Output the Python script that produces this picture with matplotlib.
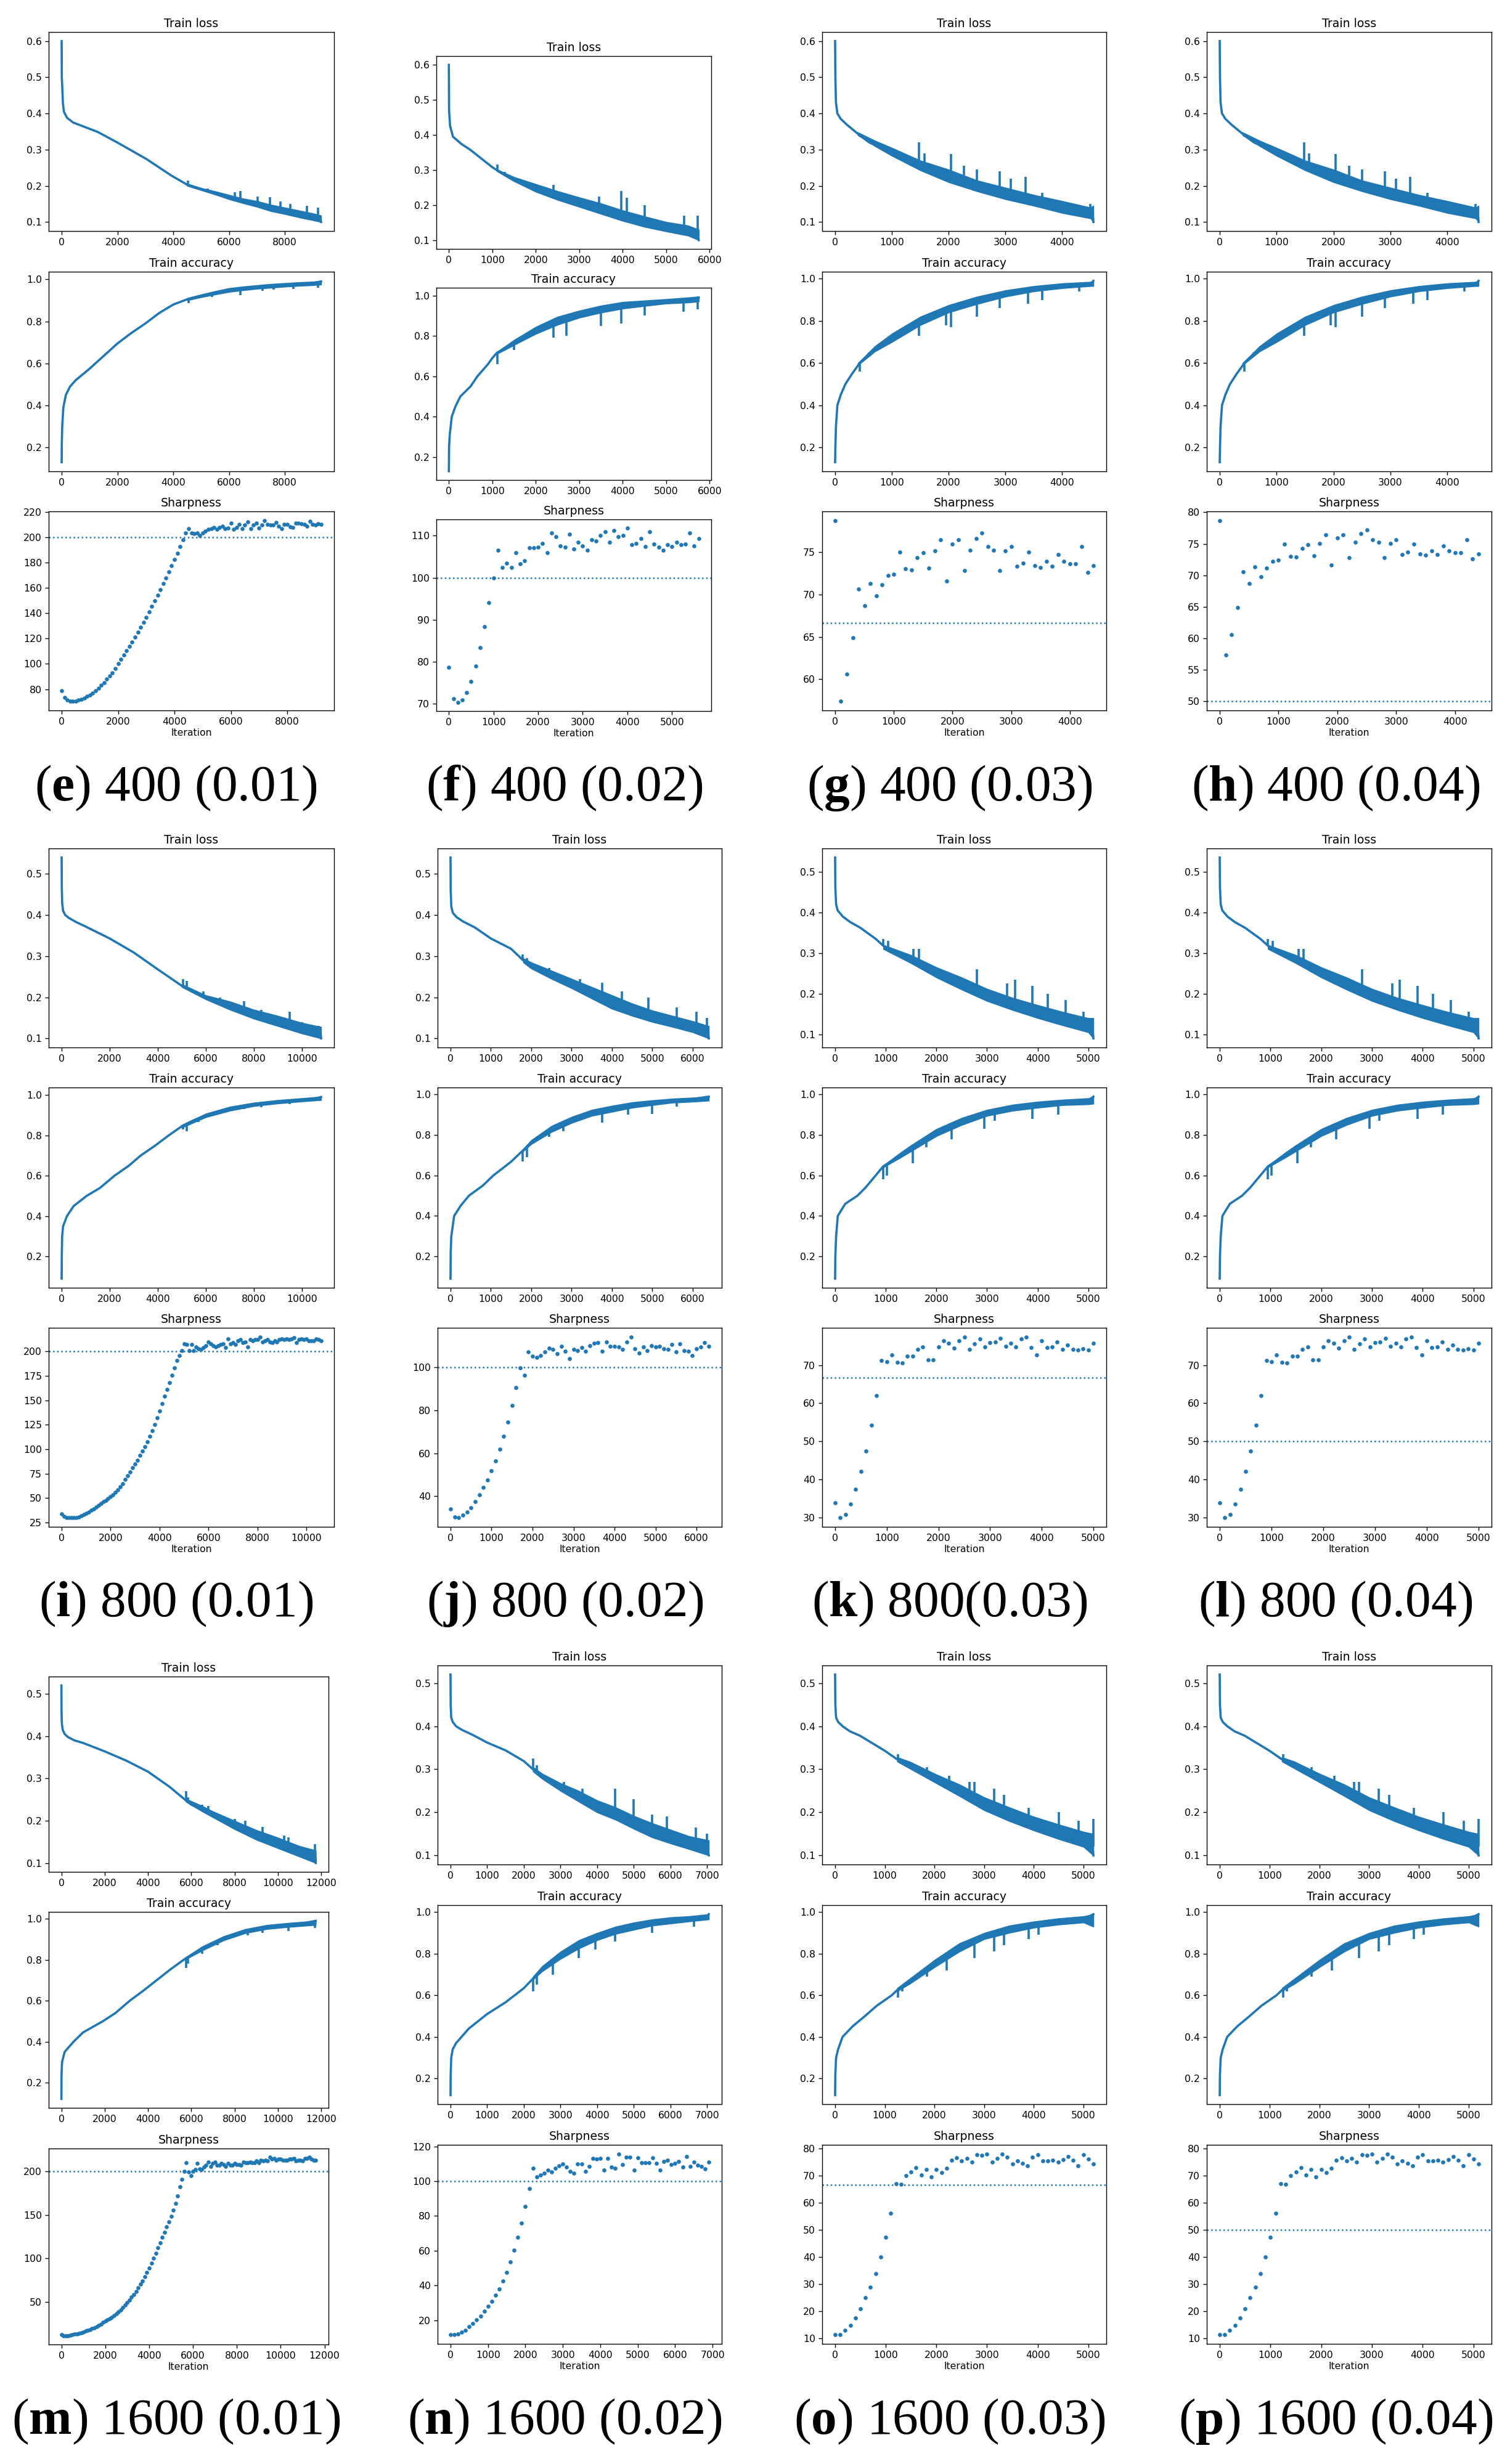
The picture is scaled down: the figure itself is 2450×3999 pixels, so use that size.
import numpy as np
import matplotlib.pyplot as plt
from matplotlib.ticker import MultipleLocator

plt.rcParams['mathtext.fontset'] = 'custom'
plt.rcParams['mathtext.rm'] = 'Liberation Serif'
plt.rcParams['mathtext.bf'] = 'Liberation Serif:bold'

BLUE = '#1f77b4'
W, H = 2450, 3999

# ---------------- (e) 400 (0.01) ----------------
e_loss_it = [0, 5, 20, 44, 80, 190, 410, 850, 1290, 1990, 3040, 3920, 4500, 5000, 5500, 6000, 6500, 7000, 7500, 8000, 8500, 9000, 9280, 9300]
e_loss = [0.60, 0.50, 0.476, 0.43, 0.405, 0.388, 0.375, 0.362, 0.349, 0.32, 0.274, 0.229, 0.203, 0.191, 0.181, 0.169, 0.158, 0.150, 0.139, 0.131, 0.122, 0.114, 0.108, 0.10]
e_loss_bx = [4500, 5000, 5500, 6000, 6500, 7000, 7500, 8000, 8500, 9000, 9300]
e_loss_lo = [0.200, 0.188, 0.176, 0.163, 0.152, 0.142, 0.130, 0.122, 0.113, 0.105, 0.100]
e_loss_hi = [0.206, 0.194, 0.185, 0.175, 0.165, 0.158, 0.148, 0.140, 0.132, 0.124, 0.118]
e_loss_spk = [(4520, 0.203, 0.215), (5230, 0.185, 0.192), (6200, 0.166, 0.182), (6400, 0.16, 0.186), (7020, 0.148, 0.17),
              (7470, 0.14, 0.168), (7850, 0.133, 0.156), (8200, 0.127, 0.15), (8800, 0.117, 0.145), (9200, 0.11, 0.14)]
e_acc_it = [0, 5, 20, 60, 150, 300, 500, 1000, 1500, 2000, 2500, 3000, 3500, 4000, 4500, 5000, 5500, 6000, 6500, 7000, 7500, 8000, 8500, 9000, 9300]
e_acc = [0.13, 0.22, 0.30, 0.39, 0.45, 0.49, 0.52, 0.575, 0.635, 0.695, 0.745, 0.79, 0.84, 0.88, 0.905, 0.922, 0.937, 0.95, 0.958, 0.964, 0.97, 0.974, 0.978, 0.981, 0.99]
e_acc_bx = [4500, 5000, 5500, 6000, 6500, 7000, 7500, 8000, 8500, 9000, 9300]
e_acc_lo = [0.900, 0.915, 0.928, 0.940, 0.948, 0.955, 0.960, 0.965, 0.969, 0.972, 0.975]
e_acc_hi = [0.911, 0.928, 0.944, 0.958, 0.966, 0.972, 0.978, 0.982, 0.986, 0.989, 0.993]
e_acc_spk = [(4560, 0.905, 0.888), (5400, 0.93, 0.915), (6400, 0.955, 0.925), (7200, 0.965, 0.945),
             (7600, 0.968, 0.95), (8300, 0.973, 0.955), (9200, 0.98, 0.96)]
e_sharp = [79, 73.4, 71.5, 70.7, 70.4, 70.7, 71.5, 72, 73, 74.4,
           75.6, 77, 79, 80.8, 83, 85.3, 88, 90.5, 93, 96.5,
           100.2, 103.6, 107, 110.3, 114, 117.4, 121, 124.9, 129, 132.7,
           136.8, 140.9, 145.4, 149.9, 154.3, 158.8, 163.3, 167.8, 172.6, 177.5,
           182.3, 187.5, 192.8, 198, 203.2, 207, 203.6, 202.8, 203.2, 201.3,
           203.2, 205, 206.2, 207, 207.7, 206.2, 208, 208.8, 207, 207.3,
           211.4, 206.2, 208, 210.3, 207, 209.6, 212.2, 206.6, 209.6, 211.4,
           207.3, 209.6, 213.3, 210, 209.6, 209.6, 211.8, 208.8, 207, 210.3,
           210.3, 208.4, 208, 211, 211, 210.7, 210.3, 208.8, 212.9, 210,
           209.6, 210.7, 210]

# ---------------- (f) 400 (0.02) ----------------
f_loss_it = [0, 5, 28, 95, 292, 490, 1000, 1100, 1500, 2000, 2500, 3000, 3500, 4000, 4500, 5000, 5500, 5720, 5750]
f_loss = [0.60, 0.47, 0.426, 0.395, 0.374, 0.358, 0.308, 0.30, 0.274, 0.249, 0.228, 0.208, 0.19, 0.17, 0.153, 0.138, 0.127, 0.118, 0.10]
f_loss_bx = [1100, 1500, 2000, 2500, 3000, 3500, 4000, 4500, 5000, 5500, 5750]
f_loss_lo = [0.297, 0.268, 0.238, 0.215, 0.195, 0.175, 0.155, 0.138, 0.125, 0.113, 0.100]
f_loss_hi = [0.302, 0.280, 0.260, 0.240, 0.222, 0.205, 0.185, 0.168, 0.152, 0.142, 0.130]
f_loss_spk = [(1120, 0.3, 0.315), (1280, 0.285, 0.295), (2400, 0.235, 0.258), (3450, 0.195, 0.225), (3960, 0.175, 0.24),
              (4090, 0.17, 0.22), (4500, 0.155, 0.2), (5420, 0.13, 0.17), (5720, 0.12, 0.17)]
f_acc_it = [0, 5, 20, 67, 150, 264, 500, 657, 900, 1000, 1100, 1500, 2000, 2500, 3000, 3500, 4000, 4500, 5000, 5500, 5750]
f_acc = [0.13, 0.25, 0.31, 0.40, 0.45, 0.50, 0.55, 0.60, 0.66, 0.69, 0.715, 0.768, 0.828, 0.875, 0.908, 0.933, 0.952, 0.962, 0.971, 0.978, 0.99]
f_acc_bx = [1100, 1500, 2000, 2500, 3000, 3500, 4000, 4500, 5000, 5500, 5750]
f_acc_lo = [0.71, 0.755, 0.81, 0.855, 0.89, 0.915, 0.935, 0.948, 0.96, 0.965, 0.97]
f_acc_hi = [0.72, 0.78, 0.845, 0.895, 0.925, 0.95, 0.968, 0.975, 0.982, 0.99, 0.995]
f_acc_spk = [(1120, 0.715, 0.66), (1500, 0.765, 0.73), (2400, 0.87, 0.79), (2700, 0.885, 0.8), (3500, 0.93, 0.85),
             (3960, 0.95, 0.86), (4500, 0.96, 0.9), (5400, 0.975, 0.92), (5720, 0.98, 0.93)]
f_sharp = [78.7, 71.1, 70.3, 70.9, 72.6, 75.3, 78.9, 83.3, 88.3, 94,
           100, 106.5, 102.4, 103.5, 102.4, 106, 103.3, 104.1, 107.1, 107.1,
           107.3, 108.1, 105.9, 110.7, 109.7, 107.6, 107.3, 110.4, 106.9, 108.4,
           107.6, 106.5, 109.1, 108.7, 110, 111, 108.4, 111.2, 109.8, 110.1,
           111.8, 107.9, 108.1, 109.3, 107.4, 111, 108, 107.2, 106.6, 107.9,
           107.4, 108.4, 107.8, 108, 110.7, 107.6, 109.3]

# ---------------- (g)/(h) 400 (0.03 / 0.04) ----------------
g_loss_it = [0, 5, 15, 40, 100, 200, 400, 600, 1000, 1500, 2000, 2500, 3000, 3500, 4000, 4500, 4540, 4550]
g_loss = [0.60, 0.50, 0.43, 0.40, 0.385, 0.37, 0.344, 0.32, 0.294, 0.257, 0.228, 0.2, 0.179, 0.16, 0.141, 0.125, 0.12, 0.10]
g_loss_bx = [400, 700, 1000, 1500, 2000, 2500, 3000, 3500, 4000, 4500, 4550]
g_loss_lo = [0.340, 0.310, 0.283, 0.243, 0.210, 0.185, 0.163, 0.145, 0.125, 0.110, 0.100]
g_loss_hi = [0.348, 0.325, 0.305, 0.270, 0.245, 0.215, 0.195, 0.175, 0.158, 0.140, 0.145]
g_loss_spk = [(1480, 0.26, 0.32), (1570, 0.25, 0.29), (2040, 0.225, 0.287), (2270, 0.21, 0.255), (2500, 0.2, 0.245),
              (2900, 0.18, 0.24), (3100, 0.172, 0.22), (3350, 0.165, 0.225), (3650, 0.155, 0.18), (4500, 0.125, 0.15)]
g_acc_it = [0, 5, 15, 40, 100, 180, 300, 435, 820, 1500, 2000, 2420, 3000, 3500, 4000, 4500, 4550]
g_acc = [0.13, 0.2, 0.3, 0.4, 0.45, 0.5, 0.55, 0.6, 0.69, 0.8, 0.858, 0.897, 0.93, 0.952, 0.966, 0.975, 0.99]
g_acc_bx = [400, 700, 1000, 1500, 2000, 2500, 3000, 3500, 4000, 4500, 4550]
g_acc_lo = [0.59, 0.655, 0.7, 0.78, 0.84, 0.88, 0.915, 0.94, 0.955, 0.965, 0.965]
g_acc_hi = [0.60, 0.68, 0.74, 0.82, 0.875, 0.915, 0.945, 0.965, 0.978, 0.985, 0.99]
g_acc_spk = [(430, 0.595, 0.56), (600, 0.65, 0.63), (1480, 0.79, 0.73), (1950, 0.85, 0.78), (2040, 0.855, 0.77),
             (2500, 0.895, 0.82), (2900, 0.925, 0.86), (3400, 0.945, 0.88), (3650, 0.955, 0.9), (4300, 0.97, 0.94)]
g_sharp = [78.7, 57.4, 60.6, 64.9, 70.6, 68.7, 71.3, 69.8, 71.1, 72.2,
           72.4, 75, 73, 72.9, 74.3, 74.9, 73.1, 75.1, 76.4, 71.6,
           75.9, 76.4, 72.8, 75.2, 76.6, 77.2, 75.6, 75.2, 72.8, 75.1,
           75.6, 73.3, 73.7, 75, 73.4, 73.2, 73.9, 73.3, 74.7, 73.9,
           73.6, 73.6, 75.6, 72.6, 73.4]

# ---------------- (i) 800 (0.01) ----------------
i_loss_it = [0, 5, 20, 60, 150, 300, 600, 1000, 2000, 3000, 4000, 5000, 6000, 7000, 8000, 9000, 10000, 10780, 10800]
i_loss = [0.54, 0.47, 0.43, 0.41, 0.40, 0.393, 0.383, 0.372, 0.343, 0.309, 0.268, 0.228, 0.2, 0.18, 0.159, 0.142, 0.125, 0.114, 0.10]
i_loss_bx = [5000, 6000, 7000, 8000, 9000, 10000, 10800]
i_loss_lo = [0.225, 0.195, 0.17, 0.148, 0.13, 0.112, 0.10]
i_loss_hi = [0.232, 0.205, 0.19, 0.17, 0.155, 0.138, 0.128]
i_loss_spk = [(5050, 0.228, 0.245), (5200, 0.222, 0.24), (5900, 0.2, 0.215), (6600, 0.19, 0.2), (7600, 0.168, 0.19),
              (8300, 0.153, 0.17), (9500, 0.135, 0.165), (10000, 0.125, 0.14), (10700, 0.115, 0.13)]
i_acc_it = [0, 5, 20, 60, 220, 500, 1040, 1600, 2200, 2800, 3290, 3900, 4460, 5000, 5500, 6100, 7000, 7600, 8500, 9500, 10500, 10800]
i_acc = [0.09, 0.2, 0.3, 0.35, 0.4, 0.45, 0.5, 0.54, 0.6, 0.65, 0.7, 0.75, 0.8, 0.845, 0.875, 0.9, 0.932, 0.948, 0.962, 0.973, 0.981, 0.99]
i_acc_bx = [5000, 6000, 7000, 8000, 9000, 10000, 10800]
i_acc_lo = [0.838, 0.89, 0.922, 0.945, 0.958, 0.968, 0.975]
i_acc_hi = [0.852, 0.908, 0.942, 0.962, 0.975, 0.984, 0.992]
i_acc_spk = [(5050, 0.845, 0.83), (5200, 0.855, 0.82), (5700, 0.88, 0.865), (7600, 0.945, 0.93), (8300, 0.958, 0.94), (9500, 0.97, 0.955)]
i_sharp = [33.7, 31.3, 30.3, 29.9, 29.9, 30.0, 30.3, 31, 32, 33.2,
           34.5, 36, 37.5, 39, 40.7, 42.5, 44.3, 46.2, 48, 49.5,
           51.5, 53.5, 56, 58.5, 61.5, 65, 69, 73, 77, 81,
           85, 89, 93.5, 98, 102.5, 107.5, 113, 119, 125, 132,
           139, 147, 154, 161, 168, 176, 183, 191, 196, 201,
           208, 207, 201, 207, 201, 205, 203, 202, 204, 206,
           210, 208, 206, 205, 206, 207, 208, 204, 213, 208,
           209, 207, 211, 212, 209, 210, 205, 212, 211, 212,
           212, 215, 210, 211, 212, 210, 209, 211, 210, 212,
           213, 212, 213, 212, 213, 214, 209, 212, 213, 212,
           213, 211, 211, 211, 213, 212, 211]

# ---------------- (j) 800 (0.02) ----------------
j_loss_it = [0, 5, 20, 60, 150, 300, 600, 1000, 1500, 1800, 2000, 2500, 3000, 3500, 4000, 4500, 5000, 5500, 6000, 6380, 6400]
j_loss = [0.54, 0.46, 0.42, 0.405, 0.395, 0.385, 0.37, 0.343, 0.318, 0.29, 0.277, 0.255, 0.233, 0.211, 0.188, 0.17, 0.154, 0.141, 0.128, 0.118, 0.10]
j_loss_bx = [1800, 2000, 2500, 3000, 3500, 4000, 4500, 5000, 5500, 6000, 6400]
j_loss_lo = [0.285, 0.27, 0.245, 0.222, 0.197, 0.172, 0.155, 0.14, 0.128, 0.115, 0.10]
j_loss_hi = [0.295, 0.285, 0.265, 0.245, 0.225, 0.205, 0.185, 0.168, 0.155, 0.142, 0.13]
j_loss_spk = [(1780, 0.29, 0.305), (1900, 0.285, 0.295), (2450, 0.257, 0.272), (3200, 0.225, 0.245), (3760, 0.2, 0.235),
              (4250, 0.18, 0.215), (4900, 0.157, 0.2), (5600, 0.14, 0.175), (6100, 0.128, 0.165), (6350, 0.12, 0.15)]
j_acc_it = [0, 5, 20, 90, 250, 455, 800, 1060, 1500, 1800, 2000, 2500, 3000, 3500, 4000, 4500, 5000, 5500, 6000, 6400]
j_acc = [0.09, 0.22, 0.3, 0.4, 0.45, 0.5, 0.55, 0.6, 0.668, 0.725, 0.765, 0.83, 0.875, 0.91, 0.93, 0.948, 0.96, 0.972, 0.978, 0.99]
j_acc_bx = [1800, 2000, 2500, 3000, 3500, 4000, 4500, 5000, 5500, 6000, 6400]
j_acc_lo = [0.72, 0.755, 0.815, 0.86, 0.895, 0.915, 0.935, 0.948, 0.96, 0.965, 0.97]
j_acc_hi = [0.73, 0.775, 0.845, 0.89, 0.925, 0.945, 0.962, 0.972, 0.98, 0.985, 0.99]
j_acc_spk = [(1780, 0.725, 0.67), (1900, 0.74, 0.69), (2450, 0.825, 0.79), (2800, 0.86, 0.82), (3750, 0.92, 0.86),
             (4400, 0.945, 0.9), (5000, 0.96, 0.905), (5600, 0.97, 0.94)]
j_sharp = [34.1, 30.3, 29.9, 31, 32.7, 34.7, 37.6, 40.7, 44, 47.5,
           51.9, 56.5, 62, 67.9, 74.5, 82.2, 90.5, 99.8, 96.5, 107.3,
           105.3, 104.8, 105.7, 107.3, 109, 108.4, 106.4, 109.9, 107.5, 104.2,
           108.6, 107.9, 109.2, 107.7, 110.3, 111.4, 111.6, 107.7, 111.9, 109.9,
           109.9, 109.7, 108.6, 111.9, 114.3, 108.8, 106.8, 109.5, 107.9, 110.3,
           109.7, 109.9, 108.8, 108.4, 110.8, 107.3, 111, 107.9, 107.7, 105.7,
           108.8, 109.5, 111.6, 109.9]

# ---------------- (k)/(l) 800 (0.03 / 0.04) ----------------
k_loss_it = [0, 5, 20, 50, 150, 300, 500, 800, 950, 1000, 1500, 2000, 2500, 3000, 3500, 4000, 4500, 5000, 5080, 5100]
k_loss = [0.535, 0.46, 0.42, 0.405, 0.39, 0.376, 0.362, 0.335, 0.318, 0.314, 0.284, 0.252, 0.224, 0.196, 0.174, 0.156, 0.138, 0.122, 0.115, 0.09]
k_loss_bx = [950, 1500, 2000, 2500, 3000, 3500, 4000, 4500, 5000, 5100]
k_loss_lo = [0.31, 0.275, 0.24, 0.21, 0.182, 0.16, 0.14, 0.122, 0.105, 0.09]
k_loss_hi = [0.32, 0.295, 0.265, 0.24, 0.212, 0.19, 0.172, 0.155, 0.14, 0.14]
k_loss_spk = [(950, 0.318, 0.335), (1050, 0.31, 0.33), (1550, 0.285, 0.31), (1650, 0.28, 0.31), (2800, 0.21, 0.26),
              (3400, 0.18, 0.225), (3550, 0.175, 0.235), (3900, 0.16, 0.22), (4200, 0.15, 0.2), (4550, 0.14, 0.185), (4900, 0.125, 0.155)]
k_acc_it = [0, 5, 20, 53, 200, 440, 600, 800, 950, 1300, 1940, 2400, 2800, 3400, 4000, 4500, 5000, 5100]
k_acc = [0.09, 0.2, 0.3, 0.4, 0.46, 0.5, 0.54, 0.6, 0.645, 0.7, 0.8, 0.855, 0.895, 0.93, 0.95, 0.962, 0.97, 0.99]
k_acc_bx = [950, 1300, 1500, 2000, 2500, 3000, 3500, 4000, 4500, 5000, 5100]
k_acc_lo = [0.64, 0.69, 0.72, 0.795, 0.85, 0.895, 0.92, 0.935, 0.948, 0.952, 0.955]
k_acc_hi = [0.65, 0.715, 0.75, 0.83, 0.885, 0.925, 0.95, 0.965, 0.975, 0.982, 0.99]
k_acc_spk = [(950, 0.645, 0.58), (1020, 0.655, 0.6), (1530, 0.735, 0.66), (1800, 0.78, 0.74), (2300, 0.84, 0.78),
             (2950, 0.89, 0.83), (3150, 0.905, 0.87), (3900, 0.945, 0.88), (4400, 0.96, 0.9)]
k_sharp = [34, 30, 30.9, 33.6, 37.4, 42.1, 47.5, 54.2, 62, 71.2,
           70.9, 72.7, 70.7, 70.6, 72.3, 72.3, 74.2, 74.7, 71.4, 71.4,
           74.8, 76.3, 75.8, 74.4, 76.3, 77.4, 74.2, 75.6, 76.9, 74.8,
           75.9, 76, 77, 74.9, 75.7, 74.7, 76.8, 77.3, 74.6, 72.7,
           76.3, 74.6, 74.8, 76, 74.2, 75.3, 74.2, 74, 74.3, 74, 75.8]

# ---------------- (m) 1600 (0.01) ----------------
m_loss_it = [0, 5, 20, 60, 150, 300, 600, 1000, 2000, 3000, 4000, 5000, 5750, 6000, 7000, 8000, 9000, 10000, 11000, 11730, 11750]
m_loss = [0.52, 0.46, 0.43, 0.415, 0.405, 0.398, 0.39, 0.384, 0.364, 0.342, 0.316, 0.28, 0.248, 0.238, 0.215, 0.19, 0.166, 0.147, 0.128, 0.118, 0.10]
m_loss_bx = [5750, 6500, 7000, 8000, 9000, 10000, 11000, 11750]
m_loss_lo = [0.245, 0.222, 0.208, 0.18, 0.155, 0.135, 0.115, 0.10]
m_loss_hi = [0.252, 0.235, 0.222, 0.2, 0.178, 0.16, 0.14, 0.13]
m_loss_spk = [(5750, 0.248, 0.27), (5850, 0.245, 0.255), (6500, 0.228, 0.238), (6800, 0.22, 0.235), (8000, 0.19, 0.205),
              (8500, 0.178, 0.2), (9300, 0.16, 0.185), (10300, 0.14, 0.165), (10500, 0.137, 0.16), (11700, 0.118, 0.145)]
m_acc_it = [0, 5, 30, 150, 565, 1000, 1920, 2500, 3160, 3800, 4400, 5000, 5650, 6440, 7340, 8000, 9040, 10000, 11000, 11750]
m_acc = [0.12, 0.24, 0.3, 0.35, 0.4, 0.445, 0.5, 0.54, 0.6, 0.65, 0.7, 0.75, 0.8, 0.85, 0.9, 0.925, 0.95, 0.965, 0.975, 0.99]
m_acc_bx = [5700, 6500, 7500, 8500, 9500, 10500, 11750]
m_acc_lo = [0.8, 0.845, 0.895, 0.93, 0.95, 0.96, 0.97]
m_acc_hi = [0.81, 0.865, 0.915, 0.95, 0.97, 0.98, 0.99]
m_acc_spk = [(5750, 0.805, 0.76), (5850, 0.81, 0.78), (6500, 0.855, 0.83), (7200, 0.895, 0.87), (8600, 0.94, 0.92),
             (9300, 0.955, 0.93), (10500, 0.97, 0.94), (11700, 0.98, 0.955)]
m_sharp = [12, 11, 11, 11, 11.5, 12, 12.5, 13, 13.5, 14.2,
           15, 16, 17, 18, 19, 20.2, 21.5, 23, 24.5, 26,
           27.5, 29, 30.5, 32, 34, 36, 38, 40.5, 43, 46,
           49, 52, 55, 58.5, 62, 66, 70, 74, 79, 84,
           89, 94, 100, 106, 112, 118, 124, 130, 136, 142,
           148, 155, 163, 172, 182, 191, 200, 210,
           199, 195, 200, 202, 209, 203, 202, 205, 207, 211,
           206, 209, 211, 207, 207, 209, 208, 206, 209, 207,
           207, 209, 208, 208, 207, 211, 210, 210, 211, 210,
           210, 212, 210, 213, 212, 213, 212, 216, 214, 215,
           213, 214, 214, 213, 213, 213, 214, 214, 215, 212,
           213, 213, 212, 215, 215, 216, 214, 213, 213]

# ---------------- (n) 1600 (0.02) ----------------
n_loss_it = [0, 5, 20, 60, 150, 300, 600, 1000, 1500, 2000, 2250, 2500, 3000, 3500, 4000, 4500, 5000, 5500, 6000, 6500, 7000, 7050]
n_loss = [0.52, 0.45, 0.42, 0.41, 0.40, 0.392, 0.38, 0.362, 0.344, 0.319, 0.3, 0.284, 0.259, 0.237, 0.214, 0.197, 0.177, 0.158, 0.144, 0.13, 0.118, 0.10]
n_loss_bx = [2250, 2500, 3000, 3500, 4000, 4500, 5000, 5500, 6000, 6500, 7050]
n_loss_lo = [0.295, 0.278, 0.25, 0.225, 0.2, 0.183, 0.162, 0.142, 0.128, 0.115, 0.10]
n_loss_hi = [0.305, 0.29, 0.268, 0.25, 0.228, 0.212, 0.192, 0.175, 0.16, 0.145, 0.135]
n_loss_spk = [(2250, 0.3, 0.325), (2350, 0.295, 0.31), (3100, 0.255, 0.27), (3600, 0.235, 0.255), (4500, 0.2, 0.255),
              (5000, 0.18, 0.23), (5500, 0.16, 0.195), (5900, 0.145, 0.19), (6700, 0.125, 0.165), (7000, 0.115, 0.15)]
n_acc_it = [0, 5, 20, 60, 150, 300, 500, 1000, 1500, 2000, 2250, 2500, 3000, 3500, 4000, 4500, 5000, 5500, 6000, 6500, 7000, 7050]
n_acc = [0.12, 0.22, 0.3, 0.34, 0.37, 0.4, 0.44, 0.51, 0.566, 0.634, 0.68, 0.725, 0.79, 0.845, 0.882, 0.912, 0.933, 0.95, 0.96, 0.968, 0.978, 0.99]
n_acc_bx = [2250, 2500, 3000, 3500, 4000, 4500, 5000, 5500, 6000, 6500, 7050]
n_acc_lo = [0.675, 0.715, 0.775, 0.825, 0.865, 0.895, 0.915, 0.935, 0.945, 0.955, 0.965]
n_acc_hi = [0.69, 0.74, 0.81, 0.865, 0.9, 0.93, 0.95, 0.965, 0.975, 0.98, 0.99]
n_acc_spk = [(2250, 0.68, 0.62), (2350, 0.7, 0.65), (2800, 0.76, 0.7), (3500, 0.84, 0.78), (3950, 0.87, 0.82),
             (4500, 0.905, 0.86), (5500, 0.945, 0.9), (6650, 0.965, 0.93)]
n_sharp = [11.8, 11.6, 12.1, 13.2, 14.3, 16.2, 18.1, 20.3, 22.4, 25.2,
           27.9, 30.9, 34.4, 38, 42.6, 47.5, 53.7, 60.3, 67.6, 76,
           85.6, 95.6, 107.3, 102.5, 103.5, 104.5, 106.5, 105.2, 107.5, 108.7,
           109.8, 108.3, 105.5, 104.7, 110, 110, 105.8, 108.5, 113, 112.8,
           113.1, 106.3, 113.2, 108.3, 107.5, 115.7, 109.5, 113.7, 113.7, 106.4,
           113.4, 110.6, 110.6, 110.6, 113.5, 110.2, 106.4, 111.4, 112.2, 109.6,
           110.1, 111.2, 108, 114.2, 108.6, 110.9, 109.2, 108.5, 107.1, 111.1]

# ---------------- (o)/(p) 1600 (0.03 / 0.04) ----------------
o_loss_it = [0, 5, 20, 60, 150, 300, 500, 1000, 1250, 1500, 2000, 2500, 3000, 3500, 4000, 4500, 5000, 5180, 5200]
o_loss = [0.52, 0.45, 0.42, 0.41, 0.40, 0.388, 0.378, 0.343, 0.323, 0.31, 0.28, 0.251, 0.22, 0.196, 0.174, 0.155, 0.138, 0.125, 0.10]
o_loss_bx = [1250, 1500, 2000, 2500, 3000, 3500, 4000, 4500, 5000, 5200]
o_loss_lo = [0.318, 0.302, 0.27, 0.238, 0.205, 0.18, 0.158, 0.138, 0.12, 0.10]
o_loss_hi = [0.328, 0.318, 0.29, 0.265, 0.235, 0.212, 0.19, 0.172, 0.155, 0.15]
o_loss_spk = [(1270, 0.323, 0.335), (1850, 0.29, 0.305), (2300, 0.265, 0.285), (2700, 0.24, 0.27), (2800, 0.235, 0.27),
              (3200, 0.21, 0.255), (3400, 0.2, 0.24), (3900, 0.18, 0.21), (4500, 0.155, 0.2), (4900, 0.14, 0.18), (5200, 0.12, 0.185)]
o_acc_it = [0, 5, 20, 60, 150, 350, 600, 840, 1140, 1250, 1430, 1730, 2250, 2520, 3010, 3500, 3900, 4500, 5000, 5200]
o_acc = [0.12, 0.22, 0.3, 0.34, 0.4, 0.45, 0.5, 0.55, 0.6, 0.625, 0.655, 0.7, 0.79, 0.83, 0.885, 0.918, 0.94, 0.955, 0.965, 0.99]
o_acc_bx = [1250, 1500, 2000, 2500, 3000, 3500, 4000, 4500, 5000, 5200]
o_acc_lo = [0.62, 0.655, 0.735, 0.81, 0.87, 0.9, 0.925, 0.94, 0.95, 0.93]
o_acc_hi = [0.635, 0.68, 0.77, 0.85, 0.9, 0.935, 0.955, 0.97, 0.98, 0.99]
o_acc_spk = [(1270, 0.625, 0.59), (1350, 0.64, 0.62), (1850, 0.72, 0.69), (2250, 0.79, 0.72), (2800, 0.86, 0.78),
             (3200, 0.9, 0.81), (3400, 0.915, 0.84), (3900, 0.94, 0.87), (4100, 0.945, 0.89)]
o_sharp = [11.4, 11.4, 13, 14.9, 17.7, 21.1, 25, 29, 34, 40,
           47.3, 56.3, 67.1, 66.9, 70.1, 71.5, 73, 70.4, 72.3, 69.7,
           72.3, 71.3, 72.9, 75.8, 76.7, 75.6, 76.5, 75.1, 77.7, 77.6,
           78.1, 75, 76.5, 78.1, 77, 74.4, 75.5, 74.6, 73.6, 76.9,
           77.7, 75.5, 75.5, 75.8, 75, 76, 77.2, 75.8, 73.6, 77.7,
           76.3, 74.3]

SHARP_STEP = 100  # sharpness evaluated every 100 iterations

# ---------------- layout (pixels in the 2450x3999 canvas) ----------------
row1 = (52, 375, 441, 765, 830, 1153)
row1f = (91, 404, 467, 779, 843, 1154)
row2 = (1377, 1700, 1765, 2090, 2155, 2478)
row3m = (2721, 3038, 3103, 3421, 3487, 3805)
row3 = (2703, 3026, 3092, 3415, 3481, 3804)

loss_e = (e_loss_it, e_loss, e_loss_bx, e_loss_lo, e_loss_hi, e_loss_spk)
acc_e = (e_acc_it, e_acc, e_acc_bx, e_acc_lo, e_acc_hi, e_acc_spk)
loss_f = (f_loss_it, f_loss, f_loss_bx, f_loss_lo, f_loss_hi, f_loss_spk)
acc_f = (f_acc_it, f_acc, f_acc_bx, f_acc_lo, f_acc_hi, f_acc_spk)
loss_g = (g_loss_it, g_loss, g_loss_bx, g_loss_lo, g_loss_hi, g_loss_spk)
acc_g = (g_acc_it, g_acc, g_acc_bx, g_acc_lo, g_acc_hi, g_acc_spk)
loss_i = (i_loss_it, i_loss, i_loss_bx, i_loss_lo, i_loss_hi, i_loss_spk)
acc_i = (i_acc_it, i_acc, i_acc_bx, i_acc_lo, i_acc_hi, i_acc_spk)
loss_j = (j_loss_it, j_loss, j_loss_bx, j_loss_lo, j_loss_hi, j_loss_spk)
acc_j = (j_acc_it, j_acc, j_acc_bx, j_acc_lo, j_acc_hi, j_acc_spk)
loss_k = (k_loss_it, k_loss, k_loss_bx, k_loss_lo, k_loss_hi, k_loss_spk)
acc_k = (k_acc_it, k_acc, k_acc_bx, k_acc_lo, k_acc_hi, k_acc_spk)
loss_m = (m_loss_it, m_loss, m_loss_bx, m_loss_lo, m_loss_hi, m_loss_spk)
acc_m = (m_acc_it, m_acc, m_acc_bx, m_acc_lo, m_acc_hi, m_acc_spk)
loss_n = (n_loss_it, n_loss, n_loss_bx, n_loss_lo, n_loss_hi, n_loss_spk)
acc_n = (n_acc_it, n_acc, n_acc_bx, n_acc_lo, n_acc_hi, n_acc_spk)
loss_o = (o_loss_it, o_loss, o_loss_bx, o_loss_lo, o_loss_hi, o_loss_spk)
acc_o = (o_acc_it, o_acc, o_acc_bx, o_acc_lo, o_acc_hi, o_acc_spk)

# caption, loss, acc, sharpness, 2/lr line, x tick step, sharp y step, (left, right), rows, caption centre
groups = [
    (r'($\mathbf{e}$) 400 (0.01)', loss_e, acc_e, e_sharp, 200, 2000, 20, (79, 542), row1, (286, 1279)),
    (r'($\mathbf{f}$) 400 (0.02)', loss_f, acc_f, f_sharp, 100, 1000, 10, (708, 1154), row1f, (916, 1279)),
    (r'($\mathbf{g}$) 400 (0.03)', loss_g, acc_g, g_sharp, 200 / 3, 1000, 5, (1334, 1795), row1, (1541, 1279)),
    (r'($\mathbf{h}$) 400 (0.04)', loss_g, acc_g, g_sharp, 50, 1000, 5, (1958, 2420), row1, (2167, 1279)),
    (r'($\mathbf{i}$) 800 (0.01)', loss_i, acc_i, i_sharp, 200, 2000, 25, (79, 542), row2, (286, 2603)),
    (r'($\mathbf{j}$) 800 (0.02)', loss_j, acc_j, j_sharp, 100, 1000, 20, (710, 1171), row2, (917, 2603)),
    (r'($\mathbf{k}$) 800(0.03)', loss_k, acc_k, k_sharp, 200 / 3, 1000, 10, (1334, 1795), row2, (1541, 2603)),
    (r'($\mathbf{l}$) 800 (0.04)', loss_k, acc_k, k_sharp, 50, 1000, 10, (1958, 2420), row2, (2167, 2603)),
    (r'($\mathbf{m}$) 1600 (0.01)', loss_m, acc_m, m_sharp, 200, 2000, 50, (79, 533), row3m, (286, 3930)),
    (r'($\mathbf{n}$) 1600 (0.02)', loss_n, acc_n, n_sharp, 100, 1000, 20, (710, 1171), row3, (916, 3930)),
    (r'($\mathbf{o}$) 1600 (0.03)', loss_o, acc_o, o_sharp, 200 / 3, 1000, 10, (1334, 1795), row3, (1541, 3930)),
    (r'($\mathbf{p}$) 1600 (0.04)', loss_o, acc_o, o_sharp, 50, 1000, 10, (1958, 2420), row3, (2167, 3930)),
]


def make_ax(fig, xs, top, bottom):
    l, r = xs
    return fig.add_axes([l / W, 1 - bottom / H, (r - l) / W, (bottom - top) / H])


def style(ax, title, xstep, ystep):
    ax.set_title(title, fontsize=13.6, pad=6)
    ax.xaxis.set_major_locator(MultipleLocator(xstep))
    ax.yaxis.set_major_locator(MultipleLocator(ystep))
    ax.tick_params(labelsize=11.3, width=1.0, length=4.5)
    for sp in ax.spines.values():
        sp.set_linewidth(1.0)


def noisy_curve(ax, data):
    it, val, bx, lo, hi, spk = data
    ax.plot(it, val, color=BLUE, lw=2.6)
    ax.fill_between(bx, lo, hi, color=BLUE, lw=1.0)
    ax.vlines([s[0] for s in spk], [s[1] for s in spk], [s[2] for s in spk], color=BLUE, lw=2.6)


fig = plt.figure(figsize=(W / 100, H / 100), dpi=100)

for cap, loss, acc, sharp, thr, xstep, sstep, xs, rows, cpos in groups:
    ax = make_ax(fig, xs, rows[0], rows[1])
    noisy_curve(ax, loss)
    style(ax, 'Train loss', xstep, 0.1)

    ax = make_ax(fig, xs, rows[2], rows[3])
    noisy_curve(ax, acc)
    style(ax, 'Train accuracy', xstep, 0.2)

    ax = make_ax(fig, xs, rows[4], rows[5])
    its = np.arange(len(sharp)) * SHARP_STEP
    ax.plot(its, sharp, 'o', ms=3.8, color=BLUE)
    ax.axhline(thr, ls=':', lw=1.8, color=BLUE)
    style(ax, 'Sharpness', xstep, sstep)
    ax.set_xlabel('Iteration', fontsize=11.3, labelpad=2)

    fig.text(cpos[0] / W, 1 - cpos[1] / H, cap, ha='center', va='center',
             fontsize=60, family='Liberation Serif')

fig.savefig('out.png', dpi=100)
